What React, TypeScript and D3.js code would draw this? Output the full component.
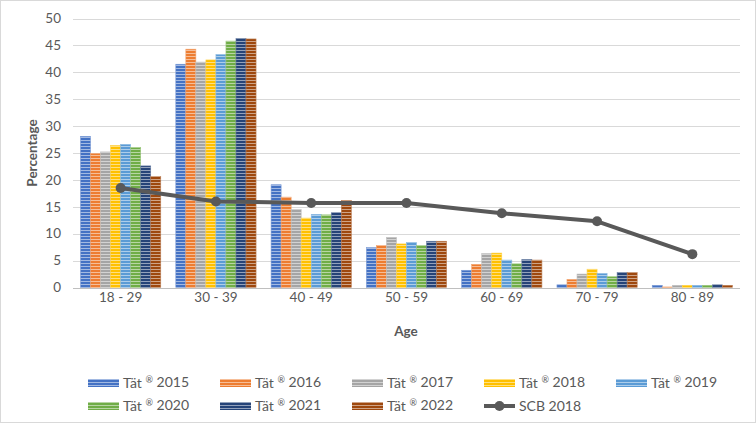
import * as d3 from 'd3';
import React, { useEffect } from 'react';

const ageGroups = ['18 - 29', '30 - 39', '40 - 49', '50 - 59', '60 - 69', '70 - 79', '80 - 89'];
const surveyYears = ['Tät ® 2015', 'Tät ® 2016', 'Tät ® 2017', 'Tät ® 2018', 'Tät ® 2019', 'Tät ® 2020', 'Tät ® 2021', 'Tät ® 2022'];
const yearColors = ['#4472C4', '#ED7D31', '#A5A5A5', '#FFC000', '#5B9BD5', '#70AD47', '#264478', '#9E480E'];

// share of respondents per age group, one array per survey year
const tat2015 = [28.1, 41.5, 19.1, 7.4, 3.2, 0.5, 0.4];
const tat2016 = [24.9, 44.3, 16.8, 7.8, 4.3, 1.5, 0.1];
const tat2017 = [25.2, 41.9, 14.5, 9.3, 6.3, 2.5, 0.4];
const tat2018 = [26.4, 42.3, 12.9, 8.1, 6.4, 3.4, 0.4];
const tat2019 = [26.6, 43.3, 13.6, 8.4, 5.1, 2.6, 0.4];
const tat2020 = [26.0, 45.8, 13.5, 7.8, 4.4, 2.0, 0.4];
const tat2021 = [22.6, 46.3, 13.9, 8.6, 5.2, 2.8, 0.5];
const tat2022 = [20.6, 46.2, 16.2, 8.6, 5.1, 2.8, 0.4];
const scb2018 = [18.5, 16.0, 15.7, 15.7, 13.8, 12.3, 6.2];

const yTicks = [0, 5, 10, 15, 20, 25, 30, 35, 40, 45, 50];

const seriesValues = [tat2015, tat2016, tat2017, tat2018, tat2019, tat2020, tat2021, tat2022];

const W = 756;
const H = 423;
const FONT = 'Lato, "Open Sans", sans-serif';
const TEXT = '#595959';

export default function App() {
  const ref = React.useRef<SVGSVGElement>(null);

  useEffect(() => {
    if (!ref.current) return;
    const svg = d3.select(ref.current);
    svg.selectAll('*').remove();

    const x0 = d3.scaleBand().domain(ageGroups).range([73, 740]).paddingInner(0).paddingOuter(0);
    const x1 = d3
      .scaleBand()
      .domain(surveyYears)
      .range([0, x0.bandwidth()])
      .paddingInner(0)
      .paddingOuter(0.75);
    const y = d3.scaleLinear().domain([0, 50]).range([287.5, 18.5]);

    // striped fills, one per year
    const defs = svg.append('defs');
    yearColors.forEach((c, i) => {
      const p = defs
        .append('pattern')
        .attr('id', `stripe${i}`)
        .attr('patternUnits', 'userSpaceOnUse')
        .attr('width', 6)
        .attr('height', 3);
      p.append('rect').attr('width', 6).attr('height', 3).attr('fill', c);
      p.append('rect')
        .attr('y', 2)
        .attr('width', 6)
        .attr('height', 1)
        .attr('fill', d3.interpolateRgb(c, '#ffffff')(0.5));
    });

    // chart border
    svg
      .append('rect')
      .attr('x', 0.5)
      .attr('y', 0.5)
      .attr('width', W - 1)
      .attr('height', H - 1)
      .attr('fill', '#fff')
      .attr('stroke', '#D9D9D9');

    // gridlines
    svg
      .append('g')
      .selectAll('line')
      .data(yTicks)
      .enter()
      .append('line')
      .attr('x1', 73)
      .attr('x2', 740)
      .attr('y1', d => Math.round(y(d)) + 0.5)
      .attr('y2', d => Math.round(y(d)) + 0.5)
      .attr('stroke', d => (d === 0 ? '#BFBFBF' : '#D9D9D9'))
      .attr('stroke-width', 1);

    // y tick labels
    svg
      .append('g')
      .selectAll('text')
      .data(yTicks)
      .enter()
      .append('text')
      .attr('x', 61)
      .attr('y', d => y(d))
      .attr('dy', '0.35em')
      .attr('text-anchor', 'end')
      .attr('font-size', 13.5)
      .attr('font-family', FONT)
      .attr('fill', TEXT)
      .text(d => d);

    // category labels
    svg
      .append('g')
      .selectAll('text')
      .data(ageGroups)
      .enter()
      .append('text')
      .attr('x', d => (x0(d) as number) + x0.bandwidth() / 2)
      .attr('y', 302)
      .attr('text-anchor', 'middle')
      .attr('font-size', 13.5)
      .attr('font-family', FONT)
      .attr('fill', TEXT)
      .text(d => d);

    // bars
    seriesValues.forEach((vals, si) => {
      svg
        .append('g')
        .selectAll('rect')
        .data(vals)
        .enter()
        .append('rect')
        .attr('x', (d, i) => (x0(ageGroups[i]) as number) + (x1(surveyYears[si]) as number))
        .attr('y', d => y(d))
        .attr('width', x1.bandwidth())
        .attr('height', d => y(0) - y(d))
        .attr('fill', `url(#stripe${si})`)
        .attr('stroke', d3.interpolateRgb(yearColors[si], '#ffffff')(0.3))
        .attr('stroke-width', 0.6);
    });

    // SCB reference line
    const line = d3
      .line<number>()
      .x((d, i) => (x0(ageGroups[i]) as number) + x0.bandwidth() / 2)
      .y(d => y(d));
    svg
      .append('path')
      .datum(scb2018)
      .attr('d', line)
      .attr('fill', 'none')
      .attr('stroke', '#595959')
      .attr('stroke-width', 4)
      .attr('stroke-linejoin', 'round');
    svg
      .append('g')
      .selectAll('circle')
      .data(scb2018)
      .enter()
      .append('circle')
      .attr('cx', (d, i) => (x0(ageGroups[i]) as number) + x0.bandwidth() / 2)
      .attr('cy', d => y(d))
      .attr('r', 5)
      .attr('fill', '#595959');

    // axis titles
    svg
      .append('text')
      .attr('transform', `translate(37,${y(25)}) rotate(-90)`)
      .attr('text-anchor', 'middle')
      .attr('font-size', 13.5)
      .attr('font-weight', 'bold')
      .attr('font-family', FONT)
      .attr('fill', TEXT)
      .text('Percentage');
    svg
      .append('text')
      .attr('x', 406)
      .attr('y', 336)
      .attr('text-anchor', 'middle')
      .attr('font-size', 13.5)
      .attr('font-weight', 'bold')
      .attr('font-family', FONT)
      .attr('fill', TEXT)
      .text('Age');

    // legend
    const legendItems = [...surveyYears, 'SCB 2018'];
    const legend = svg
      .append('g')
      .selectAll('g')
      .data(legendItems)
      .enter()
      .append('g')
      .attr('transform', (d, i) => `translate(${88 + (i % 5) * 132},${i < 5 ? 383 : 406})`);
    legend.each(function (d, i) {
      const g = d3.select(this);
      if (i < surveyYears.length) {
        g.append('rect')
          .attr('x', 0)
          .attr('y', -4)
          .attr('width', 31)
          .attr('height', 8)
          .attr('fill', `url(#stripe${i})`);
      } else {
        g.append('line')
          .attr('x1', 0)
          .attr('x2', 31)
          .attr('y1', 0)
          .attr('y2', 0)
          .attr('stroke', '#595959')
          .attr('stroke-width', 4);
        g.append('circle').attr('cx', 15.5).attr('cy', 0).attr('r', 5).attr('fill', '#595959');
      }
      const t = g
        .append('text')
        .attr('x', 35)
        .attr('y', 0)
        .attr('dy', '0.35em')
        .attr('font-size', 14)
        .attr('font-family', FONT)
        .attr('fill', TEXT);
      // the ® mark sits raised and small
      const parts = d.split('®');
      if (parts.length === 2) {
        t.append('tspan').text(parts[0]);
        t.append('tspan').attr('font-size', 9).attr('dy', '-0.6em').text('®');
        t.append('tspan').attr('dy', '0.35em').text(parts[1]);
      } else {
        t.text(d);
      }
    });
  }, []);

  return (
    <>
      <style>{'body{margin:0}'}</style>
      <svg ref={ref} width={W} height={H} style={{ display: 'block' }} />
    </>
  );
}
